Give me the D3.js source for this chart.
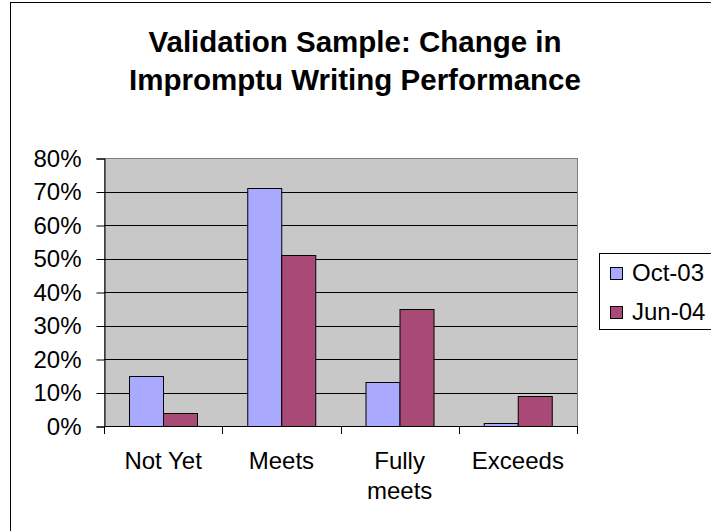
<!DOCTYPE html>
<html>
<head>
<meta charset="utf-8">
<script src="https://cdn.jsdelivr.net/npm/d3@7"></script>
<style>
  body { margin: 0; background: #fff; }
  text { font-family: Arial, "Liberation Sans", sans-serif; fill: #000; }
</style>
</head>
<body>
<div id="chart"></div>
<script>
// chart data
var categories = ["Not Yet", "Meets", "Fully meets", "Exceeds"];
var seriesNames = ["Oct-03", "Jun-04"];
var oct03 = [0.15, 0.71, 0.13, 0.01];
var jun04 = [0.04, 0.51, 0.35, 0.09];
var yTicks = [0, 0.1, 0.2, 0.3, 0.4, 0.5, 0.6, 0.7, 0.8];
var titleLines = ["Validation Sample: Change in", "Impromptu Writing Performance"];

var colors = ["#A9AAFF", "#A94A76"];
var W = 711, H = 531;
var plot = { left: 104, top: 158, right: 577, bottom: 426 };

var svg = d3.select("#chart").append("svg")
    .attr("width", W).attr("height", H);

// chart area border (cropped on right and bottom)
svg.append("rect")
    .attr("x", 10.5).attr("y", 2.5)
    .attr("width", 760).attr("height", 600)
    .attr("fill", "#fff").attr("stroke", "#000").attr("stroke-width", 1);

// title
svg.append("g").selectAll("text")
    .data(titleLines).enter()
    .append("text")
    .attr("x", 355)
    .attr("y", function(d, i) { return 52 + i * 38; })
    .attr("text-anchor", "middle")
    .style("font-size", "29.5px")
    .style("font-weight", "bold")
    .text(function(d) { return d; });

var y = d3.scaleLinear().domain([0, 0.8]).range([plot.bottom, plot.top]);
var x0 = d3.scaleBand().domain(categories).range([plot.left, plot.right]);
var x1 = d3.scaleBand().domain(seriesNames)
    .range([0, x0.bandwidth()]).paddingOuter(0.75).paddingInner(0);

// plot area
svg.append("rect")
    .attr("x", plot.left + 0.5).attr("y", plot.top + 0.5)
    .attr("width", plot.right - plot.left).attr("height", plot.bottom - plot.top)
    .attr("fill", "#C8C8C8").attr("stroke", "#808080");

// gridlines (top one is the plot border)
svg.append("g").selectAll("line")
    .data(yTicks.slice(1, -1)).enter()
    .append("line")
    .attr("x1", plot.left).attr("x2", plot.right)
    .attr("y1", function(d) { return Math.round(y(d)) + 0.5; })
    .attr("y2", function(d) { return Math.round(y(d)) + 0.5; })
    .attr("stroke", "#000");

// bars
var rows = categories.map(function(c, i) {
  return { cat: c, vals: [{ s: seriesNames[0], v: oct03[i], c: 0 }, { s: seriesNames[1], v: jun04[i], c: 1 }] };
});

svg.append("g").selectAll("g")
    .data(rows).enter()
    .append("g")
    .attr("transform", function(d) { return "translate(" + x0(d.cat) + ",0)"; })
    .selectAll("rect")
    .data(function(d) { return d.vals; }).enter()
    .append("rect")
    .attr("x", function(d) { return Math.round(x1(d.s)) + 0.5; })
    .attr("y", function(d) { return Math.round(y(d.v)) + 0.5; })
    .attr("width", Math.round(x1.bandwidth()))
    .attr("height", function(d) { return Math.round(y(0)) - Math.round(y(d.v)); })
    .attr("fill", function(d) { return colors[d.c]; })
    .attr("stroke", "#000").attr("stroke-width", 1);

// y axis
var yAxis = d3.axisLeft(y).tickValues(yTicks)
    .tickFormat(d3.format(".0%")).tickSize(8).tickPadding(15);
var gy = svg.append("g")
    .attr("transform", "translate(" + (plot.left + 0.5) + ",0.5)")
    .call(yAxis);
gy.select(".domain").attr("stroke", "#000");
gy.selectAll(".tick line").attr("stroke", "#000");
gy.selectAll("text").style("font-size", "24px").attr("fill", "#000");

// x axis: line and tick marks on band edges
var gx = svg.append("g");
gx.append("line")
    .attr("x1", plot.left).attr("x2", plot.right)
    .attr("y1", plot.bottom + 0.5).attr("y2", plot.bottom + 0.5)
    .attr("stroke", "#000");
var edges = categories.map(function(c) { return x0(c); }).concat([plot.right]);
gx.selectAll("line.tk")
    .data(edges).enter()
    .append("line").attr("class", "tk")
    .attr("x1", function(d) { return Math.round(d) + 0.5; })
    .attr("x2", function(d) { return Math.round(d) + 0.5; })
    .attr("y1", plot.bottom).attr("y2", plot.bottom + 8)
    .attr("stroke", "#000");

// category labels, wrapped when wider than the band
var labels = gx.selectAll("text.cat")
    .data(categories).enter()
    .append("text").attr("class", "cat")
    .attr("x", function(d) { return x0(d) + x0.bandwidth() / 2; })
    .attr("y", 469)
    .attr("text-anchor", "middle")
    .style("font-size", "24px")
    .text(function(d) { return d; });

labels.each(function(d) {
  var t = d3.select(this);
  if (this.getComputedTextLength() > x0.bandwidth() - 4) {
    var words = d.split(" ");
    t.text(null);
    words.forEach(function(w, i) {
      t.append("tspan")
        .attr("x", x0(d) + x0.bandwidth() / 2)
        .attr("dy", i === 0 ? 0 : 30)
        .text(w);
    });
  }
});

// legend
var lg = svg.append("g");
lg.append("rect")
    .attr("x", 599.5).attr("y", 253.5)
    .attr("width", 150).attr("height", 76)
    .attr("fill", "#fff").attr("stroke", "#000");
var items = lg.selectAll("g.item")
    .data(seriesNames).enter()
    .append("g").attr("class", "item")
    .attr("transform", function(d, i) { return "translate(610," + (273 + i * 39) + ")"; });
items.append("rect")
    .attr("x", 0.5).attr("y", -5.5)
    .attr("width", 12).attr("height", 12)
    .attr("fill", function(d, i) { return colors[i]; })
    .attr("stroke", "#000");
items.append("text")
    .attr("x", 22).attr("y", 0).attr("dy", "0.35em")
    .style("font-size", "24px")
    .text(function(d) { return d; });
</script>
</body>
</html>
